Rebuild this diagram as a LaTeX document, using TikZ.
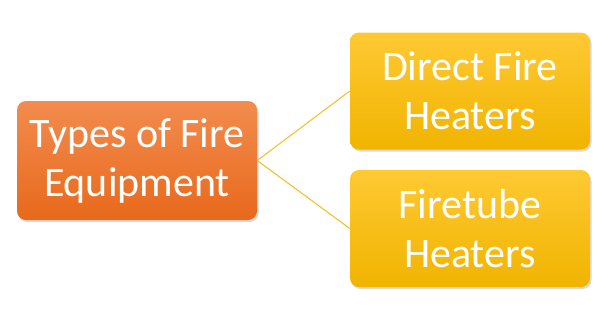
\documentclass[tikz,border=0pt]{standalone}
\usepackage{fontspec}
\setmainfont{Carlito}
\usepackage{xcolor}
\usetikzlibrary{positioning,shadows}
\definecolor{rootTop}{HTML}{F28C4E}
\definecolor{rootBot}{HTML}{E8691C}
\definecolor{leafTop}{HTML}{FFC933}
\definecolor{leafBot}{HTML}{F0B400}
\definecolor{linkCol}{HTML}{F4C030}
\tikzset{
  % --- boxes -----------------------------------------------------------------
  box/.style={rectangle,rounded corners=9pt,minimum width=240pt,
              align=center,inner sep=0pt,text=white,
              font=\fontsize{42}{49}\selectfont,
              drop shadow={opacity=0.3,shadow xshift=1.5pt,shadow yshift=-2pt}},
  rootbox/.style={box,minimum height=119pt,top color=rootTop,bottom color=rootBot},
  leafbox/.style={box,minimum height=117pt,top color=leafTop,bottom color=leafBot},
  % --- connectors ------------------------------------------------------------
  link/.style={linkCol,line width=1.1pt},
}

\begin{document}
\begin{tikzpicture}[x=1pt, y=-1pt]
  \useasboundingbox (0,0) rectangle (611,325);
  % --- the root and its two kinds ----------------------------------------
  \node[rootbox] (types)    at (137,160.5) {Types of Fire\\Equipment};
  \node[leafbox] (direct)   at (470,91)    {Direct Fire\\Heaters};
  \node[leafbox] (firetube) at (470,228.5) {Firetube\\Heaters};

  \draw[link] (types.east) -- (direct.west);
  \draw[link] (types.east) -- (firetube.west);
\end{tikzpicture}
\end{document}
